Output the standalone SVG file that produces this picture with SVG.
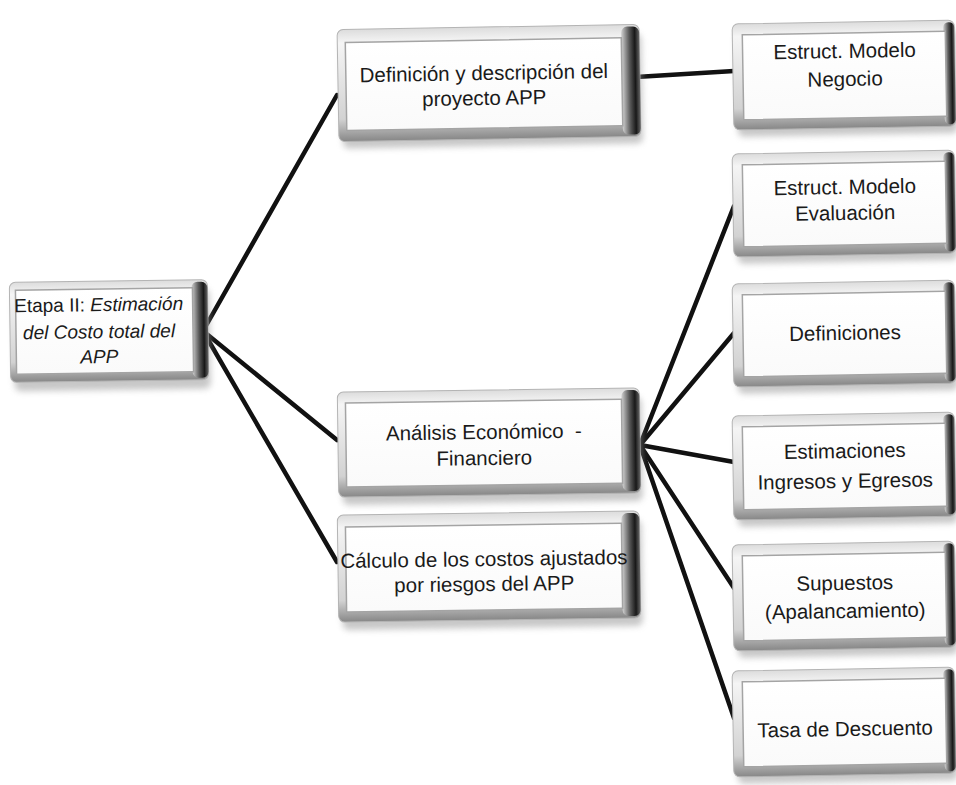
<svg xmlns="http://www.w3.org/2000/svg" width="956" height="785" viewBox="0 0 956 785">
  <defs>
    <linearGradient id="frameV" x1="0" y1="0" x2="0" y2="1">
      <stop offset="0" stop-color="#dcdcdc"/>
      <stop offset="0.12" stop-color="#f5f5f5"/>
      <stop offset="0.8" stop-color="#d2d2d2"/>
      <stop offset="1" stop-color="#878787"/>
    </linearGradient>
    <linearGradient id="edgeR" x1="0" y1="0" x2="1" y2="0">
      <stop offset="0" stop-color="#d0d0d0"/>
      <stop offset="0.45" stop-color="#555555"/>
      <stop offset="0.75" stop-color="#181818"/>
      <stop offset="1" stop-color="#666666"/>
    </linearGradient>
    <linearGradient id="faceG" x1="0" y1="0" x2="0" y2="1">
      <stop offset="0" stop-color="#ffffff"/>
      <stop offset="1" stop-color="#fafafa"/>
    </linearGradient>
    <filter id="soft" x="-10%" y="-10%" width="120%" height="130%">
      <feGaussianBlur stdDeviation="3"/>
    </filter>
  </defs>
  <style>
    .shadow { fill: #9a9a9a; opacity: 0.55; filter: url(#soft); }
    .frame { fill: url(#frameV); stroke: #b4b4b4; stroke-width: 1; }
    .edge { fill: url(#edgeR); }
    .face { fill: url(#faceG); stroke: #a4a4a4; stroke-width: 1.5; }
    .lbl { font-family: "Liberation Sans", Arial, sans-serif; font-size: 20.5px; fill: #1a1a1a; text-anchor: middle; }
    .lbl.small { font-size: 19px; }
    .it { font-style: italic; }
    .conn line { stroke: #111; stroke-width: 4.5; stroke-linecap: round; }
  </style>

  <rect x="0" y="0" width="956" height="785" fill="#ffffff"/>

  <!-- connectors -->
  <g id="connectors" class="conn">
    <line x1="203" y1="331" x2="337" y2="95"/>
    <line x1="203" y1="331" x2="337" y2="440"/>
    <line x1="203" y1="331" x2="337" y2="562"/>
    <line x1="636" y1="77" x2="734" y2="71"/>
    <line x1="640" y1="445" x2="734" y2="206"/>
    <line x1="640" y1="445" x2="734" y2="333"/>
    <line x1="640" y1="445" x2="734" y2="462"/>
    <line x1="640" y1="445" x2="734" y2="588"/>
    <line x1="640" y1="445" x2="734" y2="718"/>
  </g>

  <!-- Etapa II -->
  <g id="etapa" transform="rotate(-0.8 109 331)">
    <rect class="shadow" x="14" y="290" width="196" height="100" rx="6"/>
    <rect class="frame" x="10" y="281" width="198" height="100" rx="6"/>
    <rect class="edge" x="192" y="283" width="16" height="96" rx="6"/>
    <rect class="face" x="16" y="289" width="177" height="84"/>
    <text class="lbl small" x="99" y="311">Etapa II: <tspan class="it">Estimación</tspan></text>
    <text class="lbl small it" x="99" y="338">del Costo total del</text>
    <text class="lbl small it" x="99" y="363">APP</text>
  </g>

  <!-- Definición y descripción del proyecto APP -->
  <g id="definicion" transform="rotate(-1 489 83)">
    <rect class="shadow" x="342" y="36" width="300" height="110" rx="6"/>
    <rect class="frame" x="338" y="27" width="302" height="112" rx="6"/>
    <rect class="edge" x="622" y="29" width="18" height="108" rx="6"/>
    <rect class="face" x="346" y="40" width="276" height="88"/>
    <text class="lbl" x="484" y="80">Definición y descripción del</text>
    <text class="lbl" x="484" y="105">proyecto APP</text>
  </g>

  <!-- Análisis Económico - Financiero -->
  <g id="analisis" transform="rotate(-0.8 489 442)">
    <rect class="shadow" x="342" y="399" width="300" height="104" rx="6"/>
    <rect class="frame" x="338" y="390" width="302" height="105" rx="6"/>
    <rect class="edge" x="622" y="392" width="18" height="101" rx="6"/>
    <rect class="face" x="346" y="401" width="276" height="84"/>
    <text class="lbl" x="484" y="439" xml:space="preserve">Análisis Económico  -</text>
    <text class="lbl" x="484" y="465">Financiero</text>
  </g>

  <!-- Cálculo de los costos ajustados por riesgos del APP -->
  <g id="calculo" transform="rotate(-0.8 489 566)">
    <rect class="shadow" x="342" y="522" width="300" height="106" rx="6"/>
    <rect class="frame" x="338" y="513" width="302" height="107" rx="6"/>
    <rect class="edge" x="622" y="515" width="18" height="103" rx="6"/>
    <rect class="face" x="346" y="525" width="276" height="85"/>
    <text class="lbl" x="484" y="566">Cálculo de los costos ajustados</text>
    <text class="lbl" x="484" y="591">por riesgos del APP</text>
  </g>

  <!-- Estruct. Modelo Negocio -->
  <g id="negocio" transform="rotate(-1 844 75)">
    <rect class="shadow" x="737" y="31" width="220" height="104" rx="6"/>
    <rect class="frame" x="733" y="22" width="222" height="106" rx="6"/>
    <rect class="edge" x="944" y="24" width="11" height="102" rx="5"/>
    <rect class="face" x="743" y="33" width="203" height="85"/>
    <text class="lbl" x="845" y="58">Estruct. Modelo</text>
    <text class="lbl" x="845" y="86">Negocio</text>
  </g>

  <!-- Estruct. Modelo Evaluación -->
  <g id="evaluacion" transform="rotate(-1 844 203)">
    <rect class="shadow" x="737" y="161" width="220" height="101" rx="6"/>
    <rect class="frame" x="733" y="152" width="222" height="103" rx="6"/>
    <rect class="edge" x="944" y="154" width="11" height="99" rx="5"/>
    <rect class="face" x="743" y="163" width="203" height="82"/>
    <text class="lbl" x="845" y="194">Estruct. Modelo</text>
    <text class="lbl" x="845" y="220">Evaluación</text>
  </g>

  <!-- Definiciones -->
  <g id="definiciones" transform="rotate(-1 844 333)">
    <rect class="shadow" x="737" y="291" width="220" height="101" rx="6"/>
    <rect class="frame" x="733" y="282" width="222" height="103" rx="6"/>
    <rect class="edge" x="944" y="284" width="11" height="99" rx="5"/>
    <rect class="face" x="743" y="293" width="203" height="82"/>
    <text class="lbl" x="845" y="340">Definiciones</text>
  </g>

  <!-- Estimaciones Ingresos y Egresos -->
  <g id="estimaciones" transform="rotate(-1 844 466)">
    <rect class="shadow" x="737" y="423" width="220" height="102" rx="6"/>
    <rect class="frame" x="733" y="414" width="222" height="104" rx="6"/>
    <rect class="edge" x="944" y="416" width="11" height="100" rx="5"/>
    <rect class="face" x="743" y="425" width="203" height="83"/>
    <text class="lbl" x="845" y="458">Estimaciones</text>
    <text class="lbl" x="845" y="488">Ingresos y Egresos</text>
  </g>

  <!-- Supuestos (Apalancamiento) -->
  <g id="supuestos" transform="rotate(-1 844 596)">
    <rect class="shadow" x="737" y="552" width="220" height="104" rx="6"/>
    <rect class="frame" x="733" y="543" width="222" height="106" rx="6"/>
    <rect class="edge" x="944" y="545" width="11" height="102" rx="5"/>
    <rect class="face" x="743" y="554" width="203" height="85"/>
    <text class="lbl" x="845" y="590">Supuestos</text>
    <text class="lbl" x="845" y="618">(Apalancamiento)</text>
  </g>

  <!-- Tasa de Descuento -->
  <g id="tasa" transform="rotate(-1 844 722)">
    <rect class="shadow" x="737" y="678" width="220" height="104" rx="6"/>
    <rect class="frame" x="733" y="669" width="222" height="106" rx="6"/>
    <rect class="edge" x="944" y="671" width="11" height="102" rx="5"/>
    <rect class="face" x="743" y="680" width="203" height="85"/>
    <text class="lbl" x="845" y="736">Tasa de Descuento</text>
  </g>
</svg>
